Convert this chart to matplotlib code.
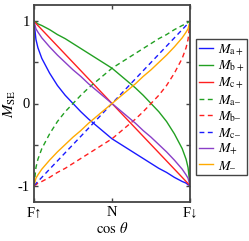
import matplotlib
matplotlib.use("Agg")
import matplotlib.pyplot as plt

plt.rcParams['font.family'] = ['Liberation Serif', 'DejaVu Serif']
plt.rcParams['mathtext.fontset'] = 'stix'

# cos(theta) axis, F-up at -1, N at 0, F-down at 1
x = [-1, -0.975, -0.95, -0.9, -0.8, -0.7, -0.6, -0.5, -0.4, -0.3, -0.2, -0.1, 0,
     0.1, 0.2, 0.3, 0.4, 0.5, 0.6, 0.7, 0.8, 0.9, 0.95, 0.975, 1]

ma_plus = [1.00, 0.78, 0.68, 0.55, 0.37, 0.22, 0.10, 0.00, -0.10, -0.19, -0.27, -0.35, -0.43,
           -0.49, -0.55, -0.61, -0.67, -0.73, -0.79, -0.84, -0.90, -0.95, -0.97, -0.99, -1.00]
mb_plus = [1.00, 0.99, 0.97, 0.95, 0.90, 0.84, 0.79, 0.73, 0.67, 0.61, 0.55, 0.49, 0.43,
           0.35, 0.27, 0.19, 0.10, 0.00, -0.10, -0.22, -0.37, -0.55, -0.68, -0.78, -1.00]
mc_plus = [1.00, 0.975, 0.95, 0.90, 0.80, 0.70, 0.60, 0.50, 0.40, 0.30, 0.20, 0.10, 0.00,
           -0.10, -0.20, -0.30, -0.40, -0.50, -0.60, -0.70, -0.80, -0.90, -0.95, -0.975, -1.00]
ma_minus = [-1.00, -0.78, -0.68, -0.55, -0.37, -0.22, -0.10, 0.00, 0.10, 0.19, 0.27, 0.35, 0.43,
            0.49, 0.55, 0.61, 0.67, 0.73, 0.79, 0.84, 0.90, 0.95, 0.97, 0.99, 1.00]
mb_minus = [-1.00, -0.99, -0.97, -0.95, -0.90, -0.84, -0.79, -0.73, -0.67, -0.61, -0.55, -0.49, -0.43,
            -0.35, -0.27, -0.19, -0.10, 0.00, 0.10, 0.22, 0.37, 0.55, 0.68, 0.78, 1.00]
mc_minus = [-1.00, -0.975, -0.95, -0.90, -0.80, -0.70, -0.60, -0.50, -0.40, -0.30, -0.20, -0.10, 0.00,
            0.10, 0.20, 0.30, 0.40, 0.50, 0.60, 0.70, 0.80, 0.90, 0.95, 0.975, 1.00]
m_plus = [1.00, 0.91, 0.87, 0.80, 0.69, 0.59, 0.50, 0.41, 0.33, 0.24, 0.16, 0.08, 0.00,
          -0.08, -0.16, -0.24, -0.33, -0.41, -0.50, -0.59, -0.69, -0.80, -0.87, -0.91, -1.00]
m_minus = [-1.00, -0.91, -0.87, -0.80, -0.69, -0.59, -0.50, -0.41, -0.33, -0.24, -0.16, -0.08, 0.00,
           0.08, 0.16, 0.24, 0.33, 0.41, 0.50, 0.59, 0.69, 0.80, 0.87, 0.91, 1.00]

x_ticks = [-1, 0, 1]
x_labels = ['F↑', 'N', 'F↓']
y_ticks = [-1, -0.5, 0, 0.5, 1]
y_labels = ['-1', '', '0', '', '1']

fig = plt.figure(figsize=(2.49, 2.41), dpi=100)
ax = fig.add_axes([34/249, 39/241, 156/249, 197/241])

dash = (0, (3.5, 2.5))
ax.plot(x, ma_plus, color='#1a1aff', lw=1, label=r'$M_{\rm a+}$')
ax.plot(x, mb_plus, color='#22a022', lw=1, label=r'$M_{\rm b+}$')
ax.plot(x, mc_plus, color='#ff2020', lw=1, label=r'$M_{\rm c+}$')
ax.plot(x, ma_minus, color='#22a022', lw=1, ls=dash, label=r'$M_{\rm a–}$')
ax.plot(x, mb_minus, color='#ff2020', lw=1, ls=dash, label=r'$M_{\rm b–}$')
ax.plot(x, mc_minus, color='#1a1aff', lw=1, ls=dash, label=r'$M_{\rm c–}$')
ax.plot(x, m_plus, color='#8a3fc8', lw=1, label=r'$M_{+}$')
ax.plot(x, m_minus, color='#ffaa00', lw=1, label=r'$M_{–}$')

ax.set_xlim(-1, 1)
ax.set_ylim(-1.2, 1.2)
ax.set_xticks(x_ticks)
ax.set_xticklabels(x_labels, fontsize=10.5)
ax.set_yticks(y_ticks)
ax.set_yticklabels(y_labels, fontsize=10.5)
ax.tick_params(direction='in', length=3, width=1, color='#444444', right=True, top=True, pad=3)
for s in ax.spines.values():
    s.set_color('#444444')
    s.set_linewidth(1.3)

ax.set_xlabel(r'$\cos\,\theta$', fontsize=10.5, labelpad=1)
ax.set_ylabel(r'$M_{\rm SE}$', fontsize=11.5)
ax.yaxis.set_label_coords(-0.105, 0.5)

leg = ax.legend(loc='upper left', bbox_to_anchor=(196/249, 1 - 39/241), bbox_transform=fig.transFigure,
                fontsize=10, handlelength=1.0, handletextpad=0.3, labelspacing=0.12,
                borderpad=0.25, borderaxespad=0, fancybox=False, framealpha=1)
leg.get_frame().set_edgecolor('#444444')
leg.get_frame().set_linewidth(1.0)

fig.savefig('out.png', dpi=100)
